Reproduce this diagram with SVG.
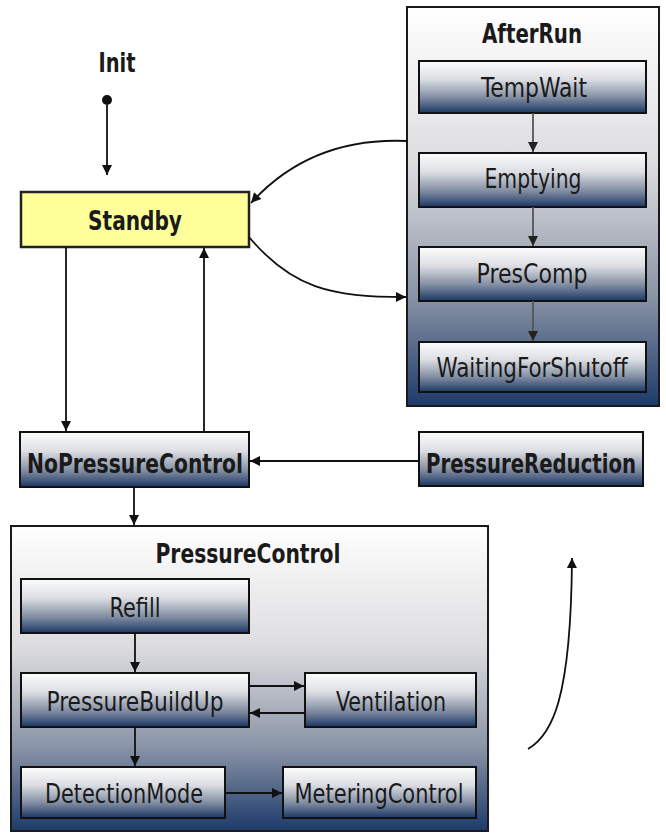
<svg xmlns="http://www.w3.org/2000/svg" width="666" height="833" viewBox="0 0 666 833">
  <defs>
    <linearGradient id="nodeFill" x1="0" y1="0" x2="0" y2="1">
      <stop offset="0" stop-color="#fdfdfd"/>
      <stop offset="0.35" stop-color="#dcdee3"/>
      <stop offset="0.7" stop-color="#828ea3"/>
      <stop offset="1" stop-color="#1b3764"/>
    </linearGradient>
    <linearGradient id="groupFill" x1="0" y1="0" x2="0" y2="1">
      <stop offset="0" stop-color="#ffffff"/>
      <stop offset="0.4" stop-color="#dcdcdf"/>
      <stop offset="0.72" stop-color="#8b95a7"/>
      <stop offset="1" stop-color="#1d3a6a"/>
    </linearGradient>
    <marker id="arrow" viewBox="0 0 10 10" refX="10" refY="5" markerWidth="11" markerHeight="10" markerUnits="userSpaceOnUse" orient="auto">
      <path d="M0,0 L10,5 L0,10 Z" fill="#111"/>
    </marker>
    <marker id="arrowGrey" viewBox="0 0 10 10" refX="10" refY="5" markerWidth="11" markerHeight="10" markerUnits="userSpaceOnUse" orient="auto">
      <path d="M0,0 L10,5 L0,10 Z" fill="#222"/>
    </marker>
  </defs>
  <style>
    .group { fill: url(#groupFill); stroke: #1a1a1a; stroke-width: 2; }
    .state { fill: url(#nodeFill); stroke: #111; stroke-width: 2; }
    .standby { fill: #ffff99; stroke: #222; stroke-width: 2.5; }
    text { font-family: "DejaVu Sans Condensed", "Liberation Sans Narrow", "Liberation Sans", sans-serif; fill: #1a1a1a; text-anchor: middle; font-size: 26px; }
    .title { font-weight: bold; }
    .edge { fill: none; stroke: #111; stroke-width: 1.8; marker-end: url(#arrow); }
    .inner { fill: none; stroke: #555; stroke-width: 1.8; marker-end: url(#arrowGrey); }
  </style>
  <rect width="666" height="833" fill="#ffffff"/>

  <!-- composite states -->
  <g id="AfterRun">
    <rect class="group" x="407" y="7" width="252" height="399"/>
    <text class="title" x="532" y="43" textLength="100" lengthAdjust="spacingAndGlyphs">AfterRun</text>
  </g>
  <g id="PressureControl">
    <rect class="group" x="11" y="526" width="477" height="305"/>
    <text class="title" x="248" y="563" textLength="185" lengthAdjust="spacingAndGlyphs">PressureControl</text>
  </g>

  <!-- initial pseudostate -->
  <g id="Init">
    <text class="title" x="117" y="72" textLength="37" lengthAdjust="spacingAndGlyphs">Init</text>
    <circle cx="107" cy="100" r="5" fill="#111"/>
  </g>

  <g id="Standby">
    <rect class="standby" x="21" y="192" width="228" height="55"/>
    <text class="title" x="135" y="230" textLength="94" lengthAdjust="spacingAndGlyphs">Standby</text>
  </g>

  <g id="TempWait">
    <rect class="state" x="419" y="61" width="227" height="52"/>
    <text x="534" y="97" textLength="106" lengthAdjust="spacingAndGlyphs">TempWait</text>
  </g>
  <g id="Emptying">
    <rect class="state" x="419" y="153" width="227" height="54"/>
    <text x="533" y="188" textLength="97" lengthAdjust="spacingAndGlyphs">Emptying</text>
  </g>
  <g id="PresComp">
    <rect class="state" x="419" y="247" width="227" height="54"/>
    <text x="532" y="283" textLength="111" lengthAdjust="spacingAndGlyphs">PresComp</text>
  </g>
  <g id="WaitingForShutoff">
    <rect class="state" x="419" y="342" width="227" height="50"/>
    <text x="532" y="377" textLength="191" lengthAdjust="spacingAndGlyphs">WaitingForShutoff</text>
  </g>

  <g id="NoPressureControl">
    <rect class="state" x="20" y="432" width="229" height="55"/>
    <text class="title" x="135" y="473" textLength="216" lengthAdjust="spacingAndGlyphs">NoPressureControl</text>
  </g>
  <g id="PressureReduction">
    <rect class="state" x="419" y="432" width="224" height="54"/>
    <text class="title" x="531" y="473" textLength="210" lengthAdjust="spacingAndGlyphs">PressureReduction</text>
  </g>

  <g id="Refill">
    <rect class="state" x="21" y="579" width="228" height="54"/>
    <text x="135" y="617" textLength="51" lengthAdjust="spacingAndGlyphs">Refill</text>
  </g>
  <g id="PressureBuildUp">
    <rect class="state" x="21" y="673" width="228" height="54"/>
    <text x="135" y="711" textLength="177" lengthAdjust="spacingAndGlyphs">PressureBuildUp</text>
  </g>
  <g id="Ventilation">
    <rect class="state" x="305" y="673" width="171" height="54"/>
    <text x="391" y="711" textLength="110" lengthAdjust="spacingAndGlyphs">Ventilation</text>
  </g>
  <g id="DetectionMode">
    <rect class="state" x="21" y="767" width="204" height="51"/>
    <text x="124" y="803" textLength="158" lengthAdjust="spacingAndGlyphs">DetectionMode</text>
  </g>
  <g id="MeteringControl">
    <rect class="state" x="283" y="767" width="193" height="51"/>
    <text x="379" y="803" textLength="169" lengthAdjust="spacingAndGlyphs">MeteringControl</text>
  </g>

  <!-- transitions -->
  <g id="connectors">
    <path class="edge" d="M107,105 L107,175"/>
    <path class="edge" d="M407,141 C340,138 290,160 251,203"/>
    <path class="edge" d="M249,237 C292,288 330,297 406,297"/>
    <path class="edge" d="M66,247 L66,431"/>
    <path class="edge" d="M204,432 L204,248"/>
    <path class="edge" d="M419,461 L250,461"/>
    <path class="edge" d="M134,487 L134,525"/>

    <path class="inner" d="M533,113 L533,152"/>
    <path class="inner" d="M533,207 L533,246"/>
    <path class="inner" d="M533,301 L533,341"/>

    <path class="edge" d="M135,633 L135,672"/>
    <path class="edge" d="M249,686 L304,686"/>
    <path class="edge" d="M305,713 L250,713"/>
    <path class="edge" d="M135,727 L135,766"/>
    <path class="edge" d="M225,793 L282,793"/>

    <path class="edge" d="M528,749 C552,735 571,700 572,558"/>
  </g>
</svg>
